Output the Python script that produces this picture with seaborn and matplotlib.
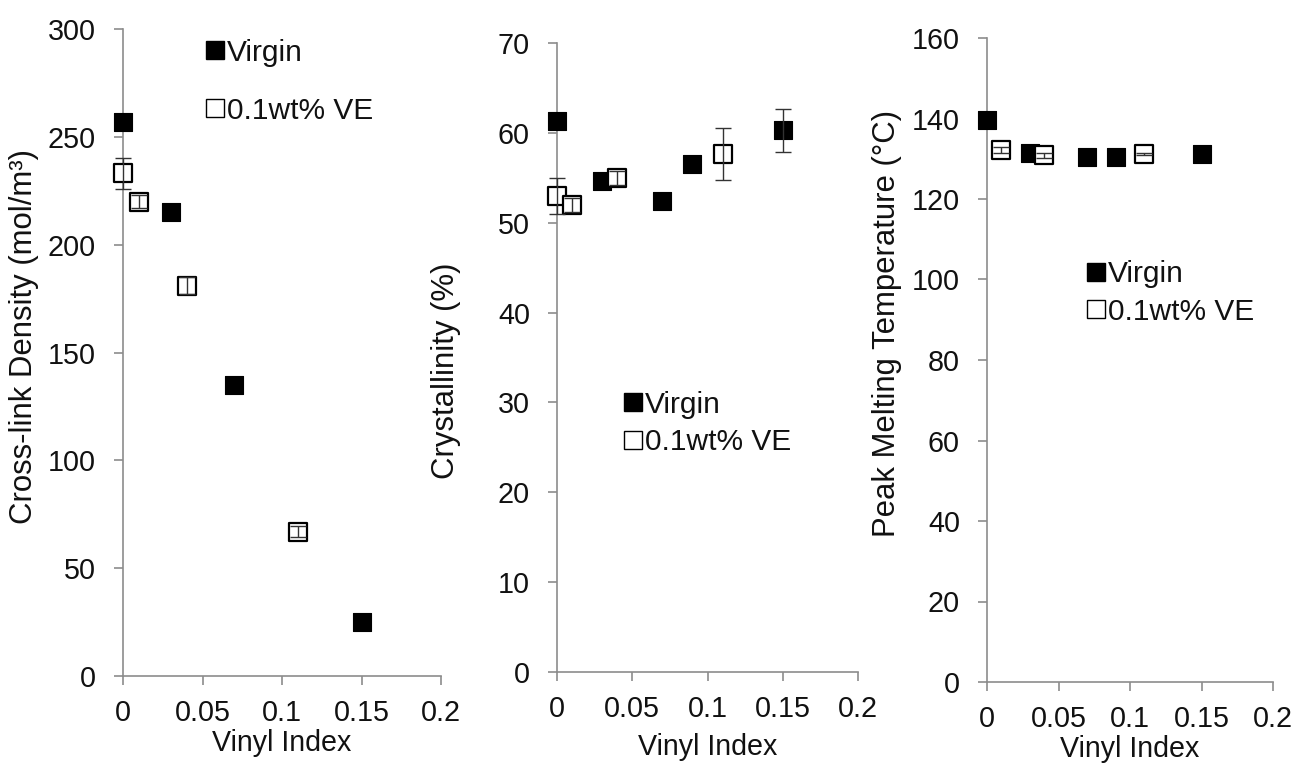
import matplotlib
matplotlib.use("Agg")
import matplotlib.pyplot as plt
import seaborn as sns
import pandas as pd
from matplotlib.lines import Line2D

sns.set_theme(style="white")
plt.rcParams['font.family'] = ['Liberation Sans', 'DejaVu Sans']

# ---------------- data ----------------
series_names = ["Virgin", "0.1wt% VE"]

# Panel 1: cross-link density
xld_virgin_x = [0.0, 0.03, 0.07, 0.15]
xld_virgin_y = [257, 215, 135, 25]
xld_virgin_err = [0, 0, 0, 0]
xld_ve_x = [0.0, 0.01, 0.04, 0.11]
xld_ve_y = [233, 220, 181, 67]
xld_ve_err = [7, 3, 4, 2.5]

# Panel 2: crystallinity
cry_virgin_x = [0.0, 0.03, 0.07, 0.09, 0.15]
cry_virgin_y = [61.3, 54.6, 52.4, 56.5, 60.3]
cry_virgin_err = [0, 0, 0, 0, 2.4]
cry_ve_x = [0.0, 0.01, 0.04, 0.11]
cry_ve_y = [53.0, 52.0, 55.0, 57.6]
cry_ve_err = [2.0, 0.8, 0.8, 2.9]

# Panel 3: peak melting temperature
tm_virgin_x = [0.0, 0.03, 0.07, 0.09, 0.15]
tm_virgin_y = [139.6, 131.4, 130.4, 130.4, 131.2]
tm_virgin_err = [0, 0, 0, 0, 0]
tm_ve_x = [0.01, 0.04, 0.11]
tm_ve_y = [132.2, 130.9, 131.2]
tm_ve_err = [0.8, 0.6, 0.2]

x_ticks = [0, 0.05, 0.1, 0.15, 0.2]
x_tick_labels = ["0", "0.05", "0.1", "0.15", "0.2"]
xlabel = "Vinyl Index"
ylabels = ["Cross-link Density (mol/m³)", "Crystallinity (%)",
           "Peak Melting Temperature (°C)"]
y_ticks_1 = [0, 50, 100, 150, 200, 250, 300]
y_ticks_2 = [0, 10, 20, 30, 40, 50, 60, 70]
y_ticks_3 = [0, 20, 40, 60, 80, 100, 120, 140, 160]

# ---------------- figure ----------------
W, H = 1296, 767
fig = plt.figure(figsize=(W / 100, H / 100), dpi=100)

def px_axes(x0, x1, ytop, ybot):
    return fig.add_axes([x0 / W, (H - ybot) / H, (x1 - x0) / W, (ybot - ytop) / H])

axes = [px_axes(123, 441, 29, 676),
        px_axes(557, 858, 43, 672),
        px_axes(987, 1273, 38, 682)]

panels = [
    (xld_virgin_x, xld_virgin_y, xld_virgin_err, xld_ve_x, xld_ve_y, xld_ve_err, y_ticks_1),
    (cry_virgin_x, cry_virgin_y, cry_virgin_err, cry_ve_x, cry_ve_y, cry_ve_err, y_ticks_2),
    (tm_virgin_x, tm_virgin_y, tm_virgin_err, tm_ve_x, tm_ve_y, tm_ve_err, y_ticks_3),
]

spine_col = "#8c8c8c"
FS_TICK = 20.7
FS_XLAB = 20.6
FS_YLAB = 22.4
FS_LEG = 21.5

# label positions in axes coords (x, y)
ylab_pos = [(-0.31, 0.524), (-0.37, 0.479), (-0.35, 0.557)]
xlab_pos = [(0.5, -0.103), (0.5, -0.119), (0.5, -0.104)]
# legend anchor (axes coords of upper-left), label spacing
leg_pos = [((0.262, 0.985), 1.0), ((0.222, 0.447), 0.32), ((0.35, 0.655), 0.32)]

def draw_err(ax, xs, ys, errs):
    pts = [(x, y, e) for x, y, e in zip(xs, ys, errs) if e > 0]
    if not pts:
        return
    ex, ey, ee = zip(*pts)
    eb = ax.errorbar(ex, ey, yerr=ee, fmt="none", ecolor="#333333", elinewidth=1,
                     capsize=6, capthick=1, zorder=4)
    for art in eb.lines[1] + eb.lines[2]:
        art.set_clip_on(False)

for i, ax in enumerate(axes):
    vx, vy, verr, ex, ey, eerr, yt = panels[i]
    dv = pd.DataFrame({"x": vx, "y": vy, "series": series_names[0]})
    de = pd.DataFrame({"x": ex, "y": ey, "series": series_names[1]})
    sns.scatterplot(data=dv, x="x", y="y", marker="s", s=185, color="black",
                    edgecolor="black", linewidth=0.8, ax=ax, zorder=3, legend=False,
                    clip_on=False)
    sns.scatterplot(data=de, x="x", y="y", marker="s", s=165, facecolor="white",
                    edgecolor="black", linewidth=1.6, ax=ax, zorder=3, legend=False,
                    clip_on=False)
    draw_err(ax, vx, vy, verr)
    draw_err(ax, ex, ey, eerr)

    ax.set_xlim(0, 0.2)
    ax.set_ylim(yt[0], yt[-1])
    ax.set_xticks(x_ticks)
    ax.set_xticklabels(x_tick_labels)
    ax.set_yticks(yt)
    ax.set_yticklabels([str(v) for v in yt])
    for s in ["top", "right"]:
        ax.spines[s].set_visible(False)
    for s in ["left", "bottom"]:
        ax.spines[s].set_color(spine_col)
        ax.spines[s].set_linewidth(1.2)
        ax.spines[s].set_zorder(1)
    ax.tick_params(axis="both", which="both", direction="out", length=6.5,
                   width=1.2, color=spine_col, labelsize=FS_TICK, labelcolor="#111111")
    ax.tick_params(axis="y", pad=13, left=True)
    ax.tick_params(axis="x", pad=10, bottom=True)
    ax.set_facecolor("white")

    ax.set_xlabel(xlabel, fontsize=FS_XLAB, color="#111111")
    ax.set_ylabel(ylabels[i], fontsize=FS_YLAB, color="#111111")
    ax.xaxis.set_label_coords(*xlab_pos[i])
    ax.yaxis.set_label_coords(*ylab_pos[i])
    ax.xaxis.label.set_verticalalignment("center")
    ax.yaxis.label.set_verticalalignment("center")

    handles = [Line2D([], [], ls="none", marker="s", markersize=12.5,
                      markerfacecolor="black", markeredgecolor="black"),
               Line2D([], [], ls="none", marker="s", markersize=12.5,
                      markerfacecolor="white", markeredgecolor="black",
                      markeredgewidth=1.0)]
    anchor, lspace = leg_pos[i]
    leg = ax.legend(handles, series_names, loc="upper left", bbox_to_anchor=anchor,
                    frameon=False, fontsize=FS_LEG, handlelength=0.6,
                    handletextpad=0.1, labelspacing=lspace, borderaxespad=0,
                    borderpad=0)
    for t in leg.get_texts():
        t.set_color("#111111")

fig.patch.set_facecolor("white")
fig.savefig("out.png", dpi=100, facecolor="white")
